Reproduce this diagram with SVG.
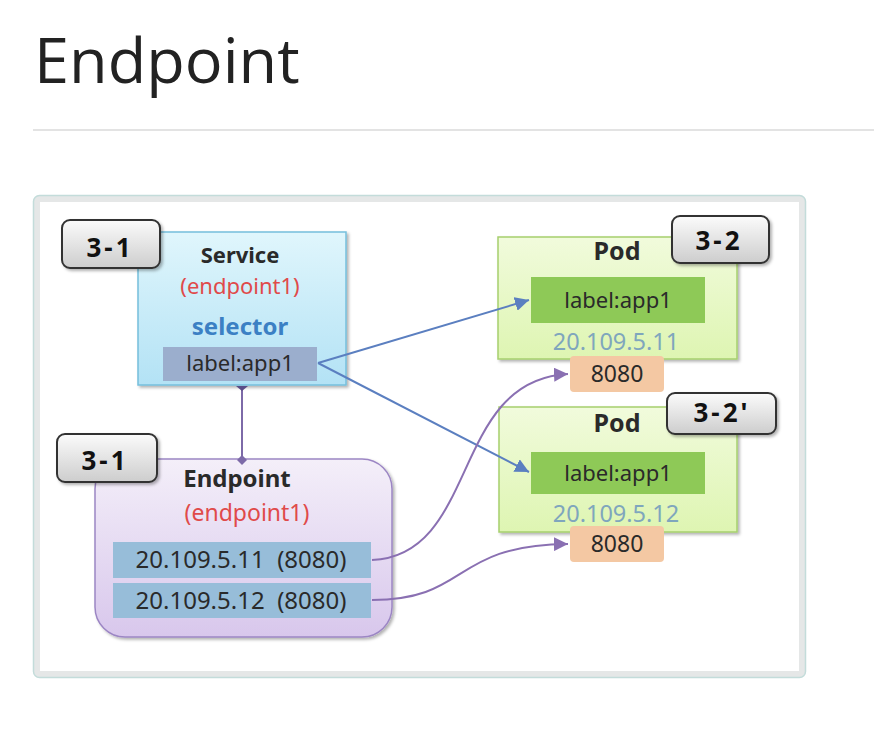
<svg xmlns="http://www.w3.org/2000/svg" width="874" height="732" viewBox="0 0 874 732">
<style>
.t{font-family:"Noto Sans","Open Sans",sans-serif;text-anchor:middle}
.b{font-weight:bold}
.dark{fill:#2a2a2a}
.red{fill:#e04a4a}
.badge rect{fill:url(#gBadge);stroke:#333;stroke-width:2}
.badge text{font-family:"Noto Sans",sans-serif;font-weight:bold;font-size:26px;letter-spacing:3px;fill:#111;text-anchor:middle}
.blue{stroke:#5b7fc0;stroke-width:2;fill:none}
.purple{stroke:#8a70b2;stroke-width:2;fill:none}
</style>
<defs>
<linearGradient id="gBadge" x1="0" y1="0" x2="0" y2="1"><stop offset="0" stop-color="#fbfbfb"/><stop offset="1" stop-color="#cdcdcd"/></linearGradient>
<linearGradient id="gSvc" x1="0" y1="0" x2="0" y2="1"><stop offset="0" stop-color="#e0f6fc"/><stop offset="1" stop-color="#b3e2f5"/></linearGradient>
<linearGradient id="gPod" x1="0" y1="0" x2="0" y2="1"><stop offset="0" stop-color="#f1fbdc"/><stop offset="1" stop-color="#def5b2"/></linearGradient>
<linearGradient id="gEp" x1="0" y1="0" x2="0" y2="1"><stop offset="0" stop-color="#f4eff9"/><stop offset="1" stop-color="#d8c7ec"/></linearGradient>
<filter id="sh" x="-10%" y="-10%" width="130%" height="130%"><feDropShadow dx="2" dy="2" stdDeviation="1.5" flood-color="#000" flood-opacity="0.3"/></filter>
<marker id="aBlue" viewBox="0 0 10 10" refX="10" refY="5" markerWidth="7" markerHeight="7" markerUnits="strokeWidth" orient="auto"><path d="M0,0 L10,5 L0,10 z" fill="#5b7fc0"/></marker>
<marker id="aPurple" viewBox="0 0 10 10" refX="10" refY="5" markerWidth="7" markerHeight="7" markerUnits="strokeWidth" orient="auto"><path d="M0,0 L10,5 L0,10 z" fill="#8a70b2"/></marker>
</defs>
<rect width="874" height="732" fill="#fff"/>
<text x="34" y="83" font-family="Open Sans, sans-serif" font-size="63" fill="#222">Endpoint</text>
<line x1="33" y1="130" x2="874" y2="130" stroke="#e3e3e3" stroke-width="2"/>
<g id="frame">
<rect x="33.5" y="195.5" width="772" height="482" rx="6" fill="#e5e7e7" stroke="#c3dcda" stroke-width="1.5"/>
<rect x="40" y="202" width="759" height="469" fill="#fff"/>
</g>
<g id="service">
<rect x="138" y="232" width="208" height="153" fill="url(#gSvc)" stroke="#76bfdc" stroke-width="1.5" filter="url(#sh)"/>
<text class="t b dark" x="240" y="263" font-size="22">Service</text>
<text class="t red" x="240" y="294" font-size="22">(endpoint1)</text>
<text class="t b" x="240" y="335" font-size="24" fill="#3b80c4">selector</text>
<rect x="163" y="347" width="154" height="34" fill="#9baecd"/>
<text class="t dark" x="240" y="371" font-size="22">label:app1</text>
</g>
<g id="endpoint">
<rect x="95" y="459" width="297" height="178" rx="30" fill="url(#gEp)" stroke="#9c86c4" stroke-width="1.5" filter="url(#sh)"/>
<text class="t b dark" x="237" y="487" font-size="24">Endpoint</text>
<text class="t red" x="247" y="521" font-size="23">(endpoint1)</text>
<rect x="113" y="542" width="258" height="36" fill="#97bdd9"/>
<rect x="113" y="583" width="258" height="35" fill="#97bdd9"/>
<text class="t dark" x="241" y="568" font-size="24" xml:space="preserve">20.109.5.11  (8080)</text>
<text class="t dark" x="241" y="609" font-size="24" xml:space="preserve">20.109.5.12  (8080)</text>
</g>
<g id="pod1">
<rect x="498" y="237" width="239" height="122" fill="url(#gPod)" stroke="#a6cf6e" stroke-width="1.5" filter="url(#sh)"/>
<text class="t b dark" x="617" y="260" font-size="25">Pod</text>
<rect x="531" y="277" width="174" height="46" fill="#8ec957"/>
<text class="t dark" x="618" y="308" font-size="22">label:app1</text>
<text class="t" x="616" y="350" font-size="23.5" fill="#7fa6bd">20.109.5.11</text>
<rect x="570" y="356" width="94" height="36" rx="4" fill="#f4c8a3"/>
<text class="t dark" x="617" y="382" font-size="23">8080</text>
</g>
<g id="pod2">
<rect x="499" y="407" width="238" height="125" fill="url(#gPod)" stroke="#a6cf6e" stroke-width="1.5" filter="url(#sh)"/>
<text class="t b dark" x="617" y="432" font-size="25">Pod</text>
<rect x="531" y="452" width="174" height="42" fill="#8ec957"/>
<text class="t dark" x="618" y="481" font-size="22">label:app1</text>
<text class="t" x="616" y="522" font-size="23.5" fill="#7fa6bd">20.109.5.12</text>
<rect x="570" y="526" width="94" height="36" rx="4" fill="#f4c8a3"/>
<text class="t dark" x="617" y="552" font-size="23">8080</text>
</g>
<g id="connectors">
<line x1="242" y1="386" x2="242" y2="460" stroke="#7d6aa8" stroke-width="2"/>
<path d="M236,386 L248,386 L242,391 z" fill="#5a4d86"/>
<path d="M242,455 L247,460 L242,465 L237,460 z" fill="#7d6aa8"/>
<path class="blue" d="M318,363 L529,300" marker-end="url(#aBlue)"/>
<path class="blue" d="M318,363 L529,472" marker-end="url(#aBlue)"/>
<path class="purple" d="M372,560 C480,555 450,380 568,374" marker-end="url(#aPurple)"/>
<path class="purple" d="M372,600 C470,600 450,545 568,544" marker-end="url(#aPurple)"/>
</g>
<g id="badge-service" class="badge">
<rect x="62" y="220" width="98" height="48" rx="8" filter="url(#sh)"/>
<text x="110" y="257">3-1</text>
</g>
<g id="badge-endpoint" class="badge">
<rect x="57" y="434" width="100" height="48" rx="8" filter="url(#sh)"/>
<text x="105" y="470">3-1</text>
</g>
<g id="badge-pod1" class="badge">
<rect x="672" y="216" width="97" height="47" rx="8" filter="url(#sh)"/>
<text x="719" y="250">3-2</text>
</g>
<g id="badge-pod2" class="badge">
<rect x="667" y="393" width="109" height="41" rx="8" filter="url(#sh)"/>
<text x="722" y="422">3-2'</text>
</g>
</svg>
